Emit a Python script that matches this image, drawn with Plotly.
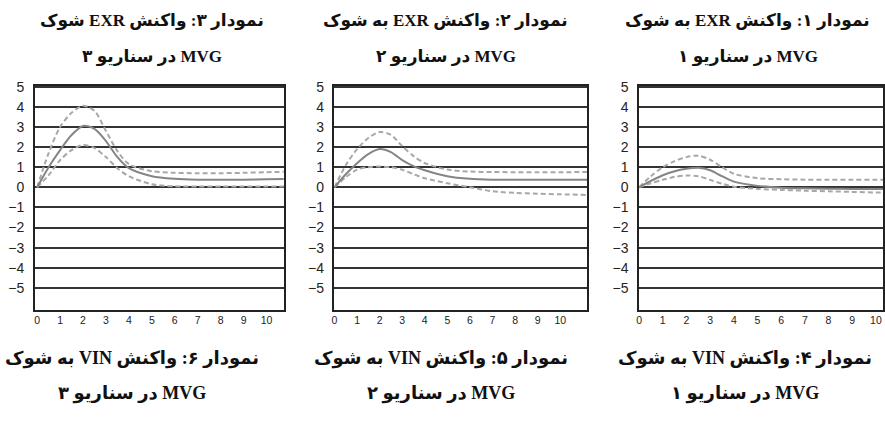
import plotly.graph_objects as go

# ---------------- data ----------------
steps = [0, 0.5, 1, 1.5, 2, 2.5, 3, 3.5, 4, 5, 6, 7, 8, 9, 10, 11.2]

# scenario 3 (left panel)
s3_mid = [0, 1.0, 1.85, 2.6, 3.05, 2.9, 2.3, 1.5, 0.95, 0.55, 0.42, 0.38, 0.38, 0.38, 0.4, 0.42]
s3_up = [0, 1.7, 3.0, 3.7, 4.05, 3.8, 2.8, 1.8, 1.15, 0.8, 0.72, 0.7, 0.7, 0.72, 0.75, 0.78]
s3_lo = [0, 0.6, 1.35, 1.85, 2.1, 1.95, 1.5, 0.95, 0.55, 0.15, 0.05, 0.04, 0.04, 0.04, 0.04, 0.04]

# scenario 2 (middle panel)
s2_mid = [0, 0.65, 1.2, 1.65, 1.9, 1.75, 1.35, 1.05, 0.85, 0.55, 0.42, 0.38, 0.37, 0.37, 0.37, 0.37]
s2_up = [0, 1.1, 1.9, 2.45, 2.75, 2.6, 2.05, 1.55, 1.2, 0.88, 0.78, 0.76, 0.75, 0.75, 0.75, 0.76]
s2_lo = [0, 0.5, 0.88, 1.0, 1.03, 1.0, 0.87, 0.65, 0.45, 0.2, 0.0, -0.2, -0.28, -0.32, -0.35, -0.38]

# scenario 1 (right panel)
s1_mid = [0, 0.32, 0.6, 0.8, 0.92, 0.97, 0.85, 0.55, 0.28, 0.07, -0.02, -0.05, -0.07, -0.08, -0.08, -0.09]
s1_up = [0, 0.55, 1.0, 1.3, 1.5, 1.57, 1.37, 1.0, 0.67, 0.45, 0.4, 0.38, 0.38, 0.38, 0.38, 0.38]
s1_lo = [0, 0.2, 0.37, 0.52, 0.58, 0.55, 0.37, 0.18, 0.03, -0.08, -0.13, -0.17, -0.2, -0.23, -0.26, -0.28]

y_ticks = [-5, -4, -3, -2, -1, 0, 1, 2, 3, 4, 5]
x_ticks = [0, 1, 2, 3, 4, 5, 6, 7, 8, 9, 10]

top_titles = [
    ("نمودار ۳: واکنش EXR شوک", "MVG در سناریو ۳"),
    ("نمودار ۲: واکنش EXR به شوک", "MVG در سناریو ۲"),
    ("نمودار ۱: واکنش EXR به شوک", "MVG در سناریو ۱"),
]
bottom_titles = [
    ("نمودار ۶: واکنش VIN به شوک", "MVG در سناریو ۳"),
    ("نمودار ۵: واکنش VIN به شوک", "MVG در سناریو ۲"),
    ("نمودار ۴: واکنش VIN به شوک", "MVG در سناریو ۱"),
]

# ---------------- layout ----------------
W, H = 885, 430
panels = [
    dict(mid=s3_mid, up=s3_up, lo=s3_lo, px=(32, 282), xr=(-0.1, 10.75)),
    dict(mid=s2_mid, up=s2_up, lo=s2_lo, px=(333, 587), xr=(0.0, 11.2)),
    dict(mid=s1_mid, up=s1_up, lo=s1_lo, px=(639, 884), xr=(0.0, 10.3)),
]
y_dom = (1 - 308 / H, 1 - 80 / H)
y_range = (-6.1, 5.05)

fig = go.Figure()
layout = dict(
    width=W, height=H, margin=dict(l=0, r=0, t=0, b=0),
    paper_bgcolor="white", plot_bgcolor="white", showlegend=False,
)

for i, p in enumerate(panels):
    n = "" if i == 0 else str(i + 1)
    xa, ya = "x" + n, "y" + n
    for key, color, dash in (("up", "#a8a8a8", "5px,3px"), ("lo", "#a8a8a8", "5px,3px"), ("mid", "#858585", "solid")):
        fig.add_trace(go.Scatter(
            x=steps, y=p[key], mode="lines", xaxis=xa, yaxis=ya,
            line=dict(color=color, width=2, dash=dash, shape="spline", smoothing=0.8),
            hoverinfo="skip",
        ))
    layout["xaxis" + n] = dict(
        domain=[p["px"][0] / W, p["px"][1] / W], range=list(p["xr"]), anchor=ya,
        tickvals=x_ticks, showgrid=False, zeroline=False,
        showline=True, linecolor="#222", linewidth=1.5, mirror=True,
        ticks="", ticklabeloverflow="allow",
        tickfont=dict(family="Arial, Liberation Sans", size=10.5, color="#222"),
    )
    layout["yaxis" + n] = dict(
        domain=list(y_dom), range=list(y_range), anchor=xa,
        tickvals=y_ticks, showgrid=True, gridcolor="#333", gridwidth=1.6,
        zeroline=False, showline=True, linecolor="#222", linewidth=1.5, mirror=True,
        ticks="", ticklabelstandoff=6,
        tickfont=dict(family="Arial, Liberation Sans", size=14, color="#2a2218"),
    )

fig.update_layout(**layout)

RLE, PDF = "\u202b", "\u202c"
top_font = dict(family="Liberation Serif, DejaVu Sans", size=17, color="#111")
bot_font = dict(family="Liberation Serif, DejaVu Sans", size=18, color="#111")
top_cx = [150, 445, 748]
bot_cx = [130, 440, 745]
for (l1, l2), cx in zip(top_titles, top_cx):
    for txt, cy in ((l1, 14), (l2, 51)):
        fig.add_annotation(text="<b>" + RLE + txt + PDF + "</b>", x=cx / W, y=1 - cy / H,
                           xref="paper", yref="paper", xanchor="center", yanchor="middle",
                           showarrow=False, font=top_font)
for (l1, l2), cx in zip(bottom_titles, bot_cx):
    for txt, cy in ((l1, 357), (l2, 393)):
        fig.add_annotation(text="<b>" + RLE + txt + PDF + "</b>", x=cx / W, y=1 - cy / H,
                           xref="paper", yref="paper", xanchor="center", yanchor="middle",
                           showarrow=False, font=bot_font)

fig.write_html("out.html", config={"displayModeBar": False},
               post_script="document.body.style.margin='0px';")
